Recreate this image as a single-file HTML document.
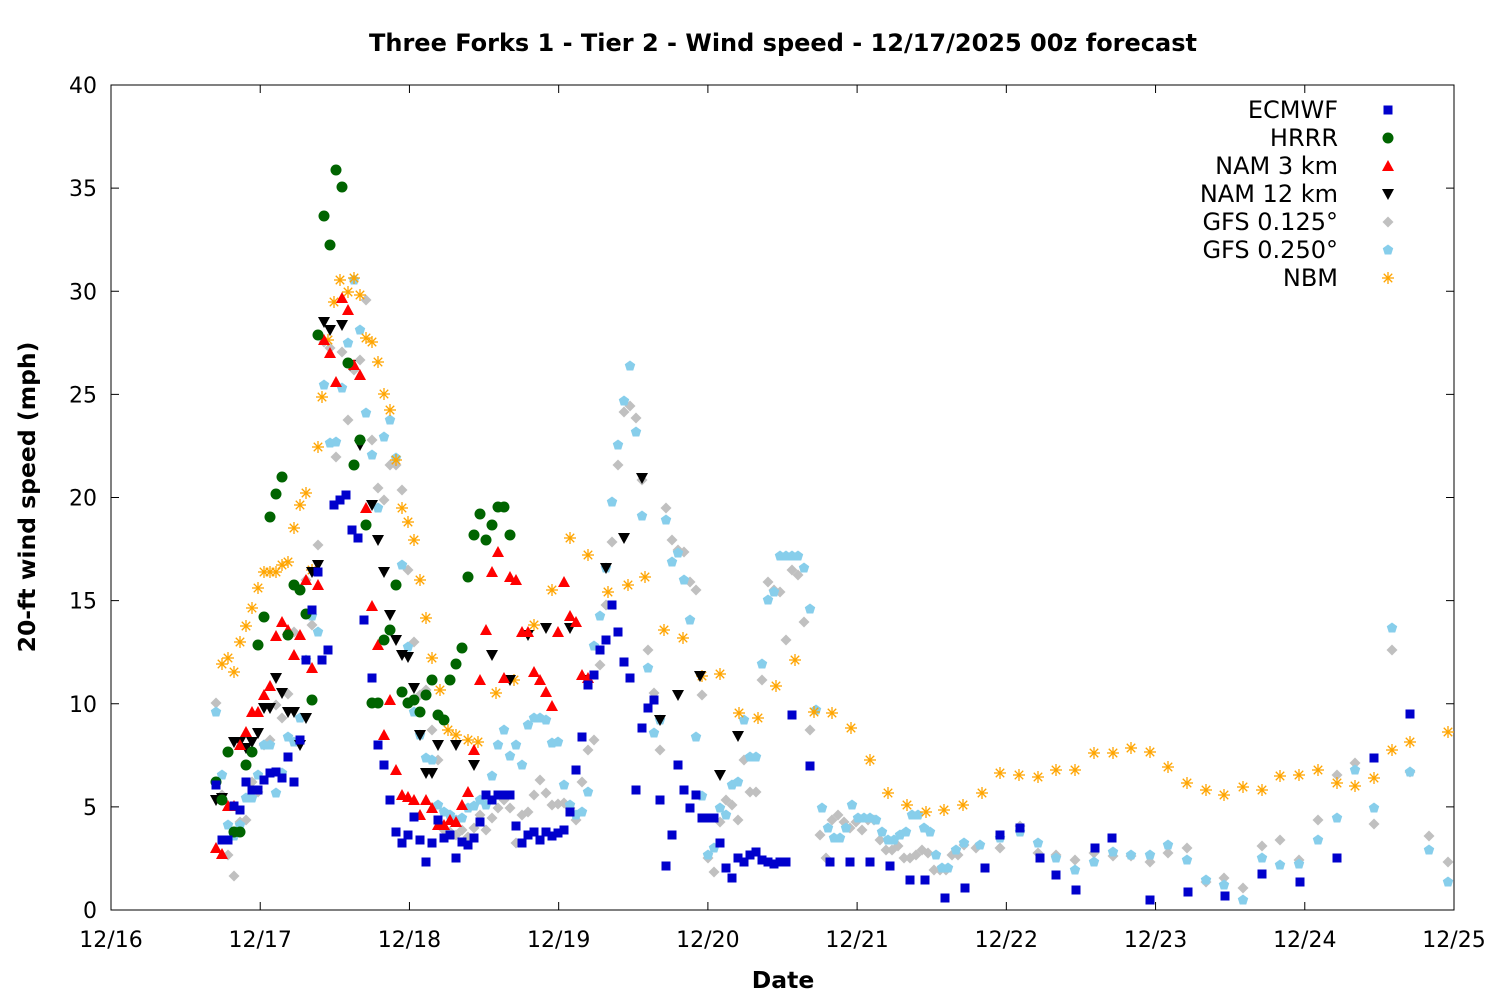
<!DOCTYPE html>
<html><head><meta charset="utf-8"><style>
html,body{margin:0;padding:0;background:#fff;width:1500px;height:1000px;overflow:hidden}
svg text{font-family:"DejaVu Sans","Liberation Sans",sans-serif;fill:#000}
</style></head><body>
<svg id="s" width="1500" height="1000" xmlns="http://www.w3.org/2000/svg">
<rect x="0" y="0" width="1500" height="1000" fill="#fff"/>
<text x="783" y="51" font-size="24" font-weight="bold" text-anchor="middle">Three Forks 1 - Tier 2 - Wind speed - 12/17/2025 00z forecast</text>
<text x="783" y="988" font-size="23.5" font-weight="bold" text-anchor="middle">Date</text>
<text transform="translate(35,497) rotate(-90)" font-size="23.5" font-weight="bold" text-anchor="middle">20-ft wind speed (mph)</text>
<rect x="111" y="85" width="1343" height="825" fill="none" stroke="#000" stroke-width="1"/>
<g id="ax"></g>
<g id="pts"></g>
<g font-size="24" text-anchor="end">
<text x="1338" y="118">ECMWF</text>
<text x="1338" y="146">HRRR</text>
<text x="1338" y="174">NAM 3 km</text>
<text x="1338" y="202">NAM 12 km</text>
<text x="1338" y="230">GFS 0.125°</text>
<text x="1338" y="258">GFS 0.250°</text>
<text x="1338" y="286">NBM</text>
</g>
<g id="leg"></g>
</svg>
<script>
var NS="http://www.w3.org/2000/svg";
function el(p,t,a,txt){var e=document.createElementNS(NS,t);for(var k in a)e.setAttribute(k,a[k]);if(txt!=null)e.textContent=txt;p.appendChild(e);return e;}
var ax=document.getElementById('ax');
var days=["12/16","12/17","12/18","12/19","12/20","12/21","12/22","12/23","12/24","12/25"];
for(var i=0;i<10;i++){var x=111+i*1343/9;
 el(ax,'line',{x1:x,y1:910,x2:x,y2:902,stroke:'#000'});el(ax,'line',{x1:x,y1:85,x2:x,y2:93,stroke:'#000'});
 el(ax,'text',{x:x,y:947,'font-size':22,'text-anchor':'middle'},days[i]);}
for(var v=0;v<=40;v+=5){var y=910-v*825/40;
 el(ax,'line',{x1:111,y1:y,x2:119,y2:y,stroke:'#000'});el(ax,'line',{x1:1454,y1:y,x2:1446,y2:y,stroke:'#000'});
 el(ax,'text',{x:97,y:y+8,'font-size':22,'text-anchor':'end'},String(v));}
var g=document.getElementById('pts');
function sq(p,x,y){el(p,'rect',{x:x-4.5,y:y-4.5,width:9,height:9,fill:'#0000cc'});}
function ci(p,x,y){el(p,'circle',{cx:x,cy:y,r:5.5,fill:'#006400'});}
function tu(p,x,y){el(p,'polygon',{points:(x-6)+','+(y+5)+' '+(x+6)+','+(y+5)+' '+x+','+(y-6),fill:'#ff0000'});}
function td(p,x,y){el(p,'polygon',{points:(x-6)+','+(y-5)+' '+(x+6)+','+(y-5)+' '+x+','+(y+6),fill:'#000'});}
function di(p,x,y){el(p,'polygon',{points:x+','+(y-5.5)+' '+(x+5.5)+','+y+' '+x+','+(y+5.5)+' '+(x-5.5)+','+y,fill:'#c0c0c0'});}
function pe(p,x,y){var s='';for(var k=0;k<5;k++){var a=-Math.PI/2+k*2*Math.PI/5;s+=(x+5.5*Math.cos(a))+','+(y+5.5*Math.sin(a))+' ';}el(p,'polygon',{points:s,fill:'#87ceeb'});}
function as(p,x,y){for(var k=0;k<4;k++){var a=k*Math.PI/4;el(p,'line',{x1:x-6*Math.cos(a),y1:y-6*Math.sin(a),x2:x+6*Math.cos(a),y2:y+6*Math.sin(a),stroke:'#ffa500','stroke-width':1.3});}}
function P(f,a){for(var i=0;i<a.length;i+=2)f(g,a[i],a[i+1]);}
var GFS1=[216,703,222,795,228,855,234,876,240,822,246,820,252,782,258,792,264,745,270,740,276,705,282,718,288,694,294,632,300,590,306,580,312,625,318,545,324,342,330,348,336,457,342,352,348,420,354,370,360,360,366,300,372,440,378,488,384,500,390,465,396,465,402,490,408,570,414,642,420,695,426,690,432,730,438,760,444,830,450,832,456,835,462,830,468,837,474,828,480,815,486,830,492,818,498,808,504,800,510,808,516,843,522,815,528,812,534,795,540,780,546,793,552,805,558,804,564,803,570,808,576,820,582,782,588,750,594,740,600,665,606,605,612,542,618,465,624,412,630,406,636,418,642,480,648,650,654,693,660,750,666,508,672,540,678,550,684,552,690,582,696,590,702,695,708,858,714,872,720,822,726,800,732,805,738,820,744,760,750,792,756,792,762,680,768,582,774,590,780,592,786,640,792,570,798,575,804,622,810,730,820,835,826,858,832,820,838,815,844,822,850,828,856,822,862,830,868,820,874,820,880,840,886,850,892,850,898,846,904,858,910,858,916,855,922,850,928,853,934,870,940,870,946,870,952,855,958,855,964,845,976,848,1000,848,1020,826,1038,853,1056,855,1075,860,1094,853,1113,856,1131,856,1150,862,1168,853,1187,848,1206,882,1224,878,1243,888,1262,846,1280,840,1299,860,1318,820,1337,775,1355,763,1374,824,1392,650,1410,772,1429,836,1448,862];
var GFS2=[216,712,222,775,228,825,234,836,240,825,246,798,252,798,258,775,264,745,270,745,276,793,282,773,288,737,294,742,300,718,306,660,312,616,318,632,324,385,330,443,336,442,342,388,348,343,354,280,360,330,366,413,372,455,378,508,384,437,390,420,396,458,402,565,408,647,414,712,420,735,426,758,432,760,438,805,444,812,450,815,456,820,462,818,468,808,474,806,480,800,486,805,492,776,498,745,504,730,510,756,516,745,522,765,528,725,534,718,540,718,546,720,552,743,558,742,564,785,570,805,576,815,582,812,588,792,594,646,600,616,606,568,612,502,618,445,624,401,630,366,636,432,642,516,648,668,654,733,660,720,666,520,672,562,678,553,684,580,690,620,696,737,702,796,708,855,714,848,720,808,726,815,732,785,738,782,744,720,750,757,756,757,762,664,768,600,774,592,780,556,786,556,792,556,798,556,804,568,810,609,816,710,822,808,828,828,834,838,840,838,846,828,852,805,858,818,864,818,870,818,876,820,882,832,888,840,894,840,900,835,906,832,912,815,918,815,924,828,930,832,936,855,942,868,948,868,956,850,964,843,980,845,1000,838,1020,832,1038,843,1056,858,1075,870,1094,862,1113,852,1131,855,1150,855,1168,845,1187,860,1206,880,1224,885,1243,900,1262,858,1280,865,1299,864,1318,840,1337,818,1355,770,1374,808,1392,628,1410,772,1429,850,1448,882];
var NBM=[222,664,228,658,234,672,240,642,246,626,252,608,258,588,264,572,270,572,276,572,282,565,288,562,294,528,300,505,306,493,312,570,318,447,322,397,328,340,334,302,340,280,348,292,354,278,360,295,366,338,372,342,378,362,384,394,390,410,396,460,402,508,408,522,414,540,420,580,426,618,432,658,440,690,448,730,456,735,468,740,478,742,496,693,514,680,534,625,552,590,570,538,588,555,608,592,628,585,645,577,664,630,683,638,702,676,720,674,739,713,758,718,776,686,795,660,814,712,832,713,851,728,870,760,888,793,907,805,926,812,944,810,963,805,982,793,1000,773,1019,775,1038,777,1056,770,1075,770,1094,753,1113,753,1131,748,1150,752,1168,767,1187,783,1206,790,1224,795,1243,787,1262,790,1280,776,1299,775,1318,770,1337,783,1355,786,1374,778,1392,750,1410,742,1448,732];
var NAM12=[216,800,222,798,234,742,240,742,246,748,252,742,258,733,264,708,270,708,276,678,282,693,288,712,294,712,300,745,306,718,312,572,318,565,324,322,330,330,342,325,350,365,360,445,372,505,378,540,384,572,390,615,396,640,402,655,408,657,414,688,420,735,426,773,432,773,438,745,456,745,474,765,492,655,510,680,528,635,546,628,570,628,588,680,606,568,624,538,642,478,660,720,678,695,700,676,720,775,738,736];
var NAM3=[216,848,222,854,228,806,234,806,240,745,246,732,252,712,258,712,264,695,270,686,276,636,282,622,288,630,294,655,300,635,306,580,312,668,318,585,324,340,330,353,336,382,342,298,348,310,354,365,360,375,366,508,372,606,378,645,384,735,390,700,396,770,402,795,408,797,414,800,420,815,426,800,432,808,438,825,444,825,450,820,456,822,462,805,468,792,474,750,480,680,486,630,492,572,498,552,504,678,510,577,516,580,522,632,528,632,534,672,540,680,546,692,552,706,558,632,564,582,570,616,576,622,582,675,588,678];
var HRRR=[216,782,222,800,228,752,234,832,240,832,246,765,252,752,258,645,264,617,270,517,276,494,282,477,288,635,294,585,300,590,306,614,312,700,318,335,324,216,330,245,336,170,342,187,348,363,354,465,360,440,366,525,372,703,378,703,384,640,390,630,396,585,402,692,408,703,414,700,420,712,426,695,432,680,438,715,444,720,450,680,456,664,462,648,468,577,474,535,480,514,486,540,492,525,498,507,504,507,510,535];
var EC=[216,785,222,840,228,840,234,806,240,810,246,782,252,790,258,790,264,780,270,773,276,772,282,778,288,757,294,782,300,740,306,660,312,610,318,572,322,660,328,650,334,505,340,500,346,495,352,530,358,538,364,620,372,678,378,745,384,765,390,800,396,832,402,843,408,835,414,817,420,840,426,862,432,843,438,820,444,838,450,835,456,858,462,842,468,845,474,838,480,822,486,795,492,800,498,795,504,795,510,795,516,826,522,843,528,835,534,832,540,840,546,832,552,836,558,833,564,830,570,812,576,770,582,737,588,685,594,675,600,650,606,640,612,605,618,632,624,662,630,678,636,790,642,728,648,708,654,700,660,800,666,866,672,835,678,765,684,790,690,808,696,795,702,818,708,818,714,818,720,843,726,868,732,878,738,858,744,862,750,855,756,852,762,860,768,862,774,864,780,862,786,862,792,715,810,766,830,862,850,862,870,862,890,866,910,880,925,880,945,898,965,888,985,868,1000,835,1020,828,1040,858,1056,875,1076,890,1095,848,1112,838,1150,900,1188,892,1225,896,1262,874,1300,882,1337,858,1374,758,1410,714];
P(di,GFS1);P(pe,GFS2);P(as,NBM);P(td,NAM12);P(tu,NAM3);P(ci,HRRR);P(sq,EC);
var L=document.getElementById('leg');
sq(L,1388,110);ci(L,1388,138);tu(L,1388,166);td(L,1388,194);di(L,1388,222);pe(L,1388,250);as(L,1388,278);
</script>
</body></html>
